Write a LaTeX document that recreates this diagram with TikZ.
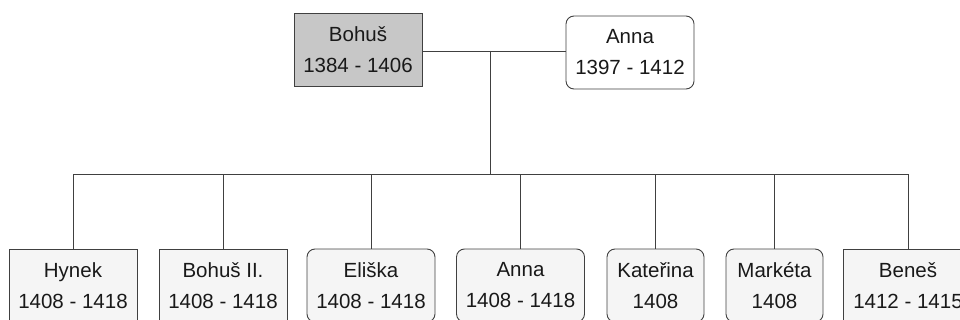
\documentclass[tikz,border=0pt]{standalone}
\usepackage{fontspec}
\setmainfont{Liberation Sans}
\usepackage{tikz}

\begin{document}
\begin{tikzpicture}[x=1pt,y=-1pt,line width=0.9pt,draw=black!75,
	every node/.style={draw,fill=black!4,minimum width=128pt,minimum height=73pt,align=center,
		font=\fontsize{20.5}{31}\selectfont,inner sep=0pt,text=black!90},
	male/.style={},
	female/.style={rounded corners=8pt},
	small/.style={minimum width=97pt}]
	\clip (0,0) rectangle (960,320);
	\node[male,fill=black!22] (bohus) at (358,49.5) {Bohuš\\1384 - 1406};
	\node[female,fill=white] (anna) at (630,52.5) {Anna\\1397 - 1412};
	\coordinate (mid) at (490,51);
	\coordinate (bus) at (490,174);
	\node[male] (hynek) at (73,285.5) {Hynek\\1408 - 1418};
	\node[male] (bohus2) at (223,285.5) {Bohuš II.\\1408 - 1418};
	\node[female] (eliska) at (371,285.5) {Eliška\\1408 - 1418};
	\node[female] (anna2) at (520.5,285.5) {Anna\\1408 - 1418};
	\node[female,small] (katerina) at (655.5,285.5) {Kateřina\\1408};
	\node[female,small] (marketa) at (774.5,285.5) {Markéta\\1408};
	\node[male,minimum width=130pt] (benes) at (908,285.5) {Beneš\\1412 - 1415};
	\draw (bohus.east |- mid) -- (anna.west |- mid);
	\draw (mid) -- (bus);
	\foreach \n in {hynek,bohus2,eliska,anna2,katerina,marketa,benes}
		\draw (bus) -| (\n.north);
\end{tikzpicture}
\end{document}
